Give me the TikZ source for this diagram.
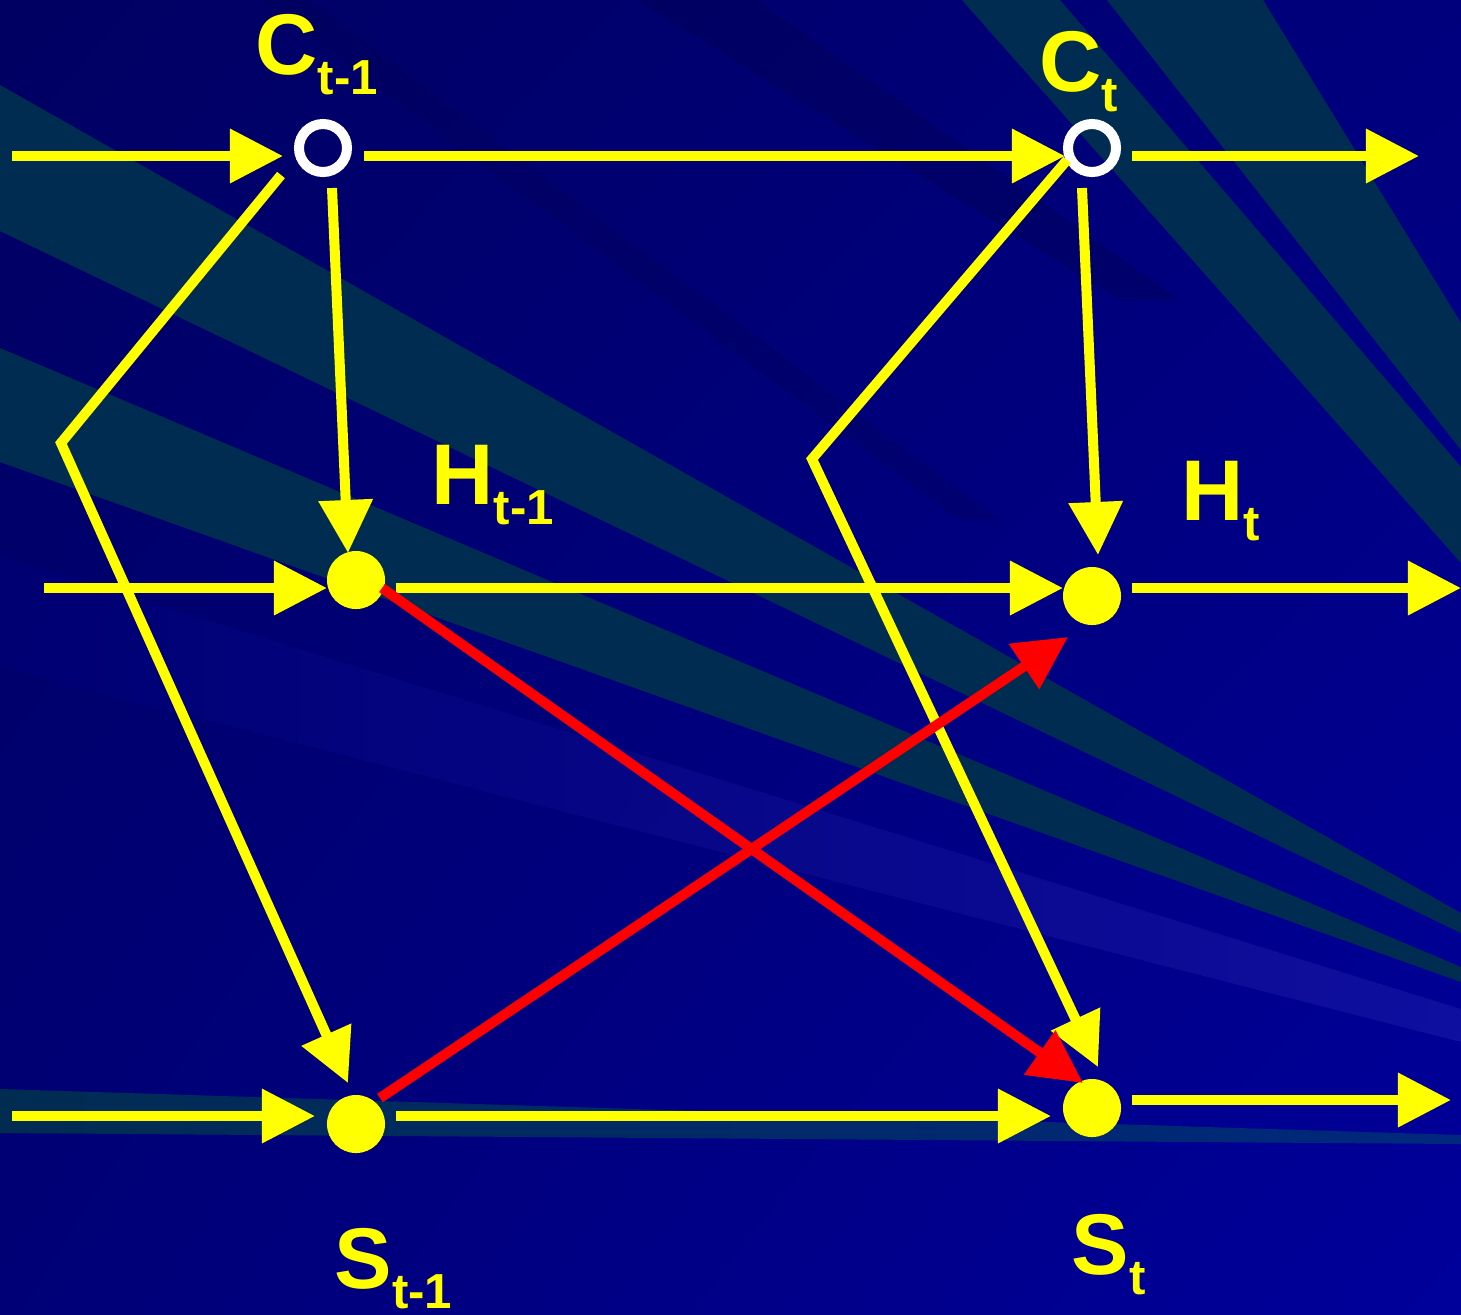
\documentclass[tikz,border=0pt]{standalone}
\usepackage{fontspec}
\setmainfont{Liberation Sans}
\usetikzlibrary{arrows.meta,calc,shadings}
\definecolor{yel}{RGB}{255,255,0}
\definecolor{rayteal}{RGB}{0,44,82}
\definecolor{raydark}{RGB}{0,0,78}
\definecolor{raylight}{RGB}{0,0,128}
\definecolor{raylight2}{RGB}{22,22,165}
\definecolor{bgA}{RGB}{0,0,98}
\definecolor{bgB}{RGB}{0,0,125}
\definecolor{bgC}{RGB}{0,0,118}
\definecolor{bgD}{RGB}{0,0,155}
\definecolor{s3end}{RGB}{0,40,125}
\tikzset{
  conn/.style={draw=yel, line width=0.1cm, -{Triangle[length=0.53cm,width=0.52cm]}},
  redconn/.style={draw=red, line width=0.1cm, -{Triangle[length=0.53cm,width=0.52cm]}},
  dot/.style={circle, fill=yel, minimum size=0.58cm, inner sep=0pt},
  ring/.style={circle, draw=white, line width=0.1cm, minimum size=0.48cm, inner sep=0pt},
  lbl/.style={anchor=base west, inner sep=0pt, text=yel, font=\bfseries\fontsize{24.5}{25}\selectfont},
}
\newcommand{\subl}[1]{\raisebox{-0.2cm}{\fontsize{14}{14}\selectfont #1}}
\begin{document}
\begin{tikzpicture}[x=0.01cm,y=-0.01cm]
\useasboundingbox (0,0) rectangle (1461,1314);
% background
\begin{scope}
\clip (0,0) rectangle (1461,1314);
\shade[upper left=bgA, upper right=bgB, lower left=bgC, lower right=bgD] (0,0) rectangle (1461,1314);
\fill[raydark, opacity=0.35] (637,0) -- (757,0) -- (1180,300) -- (1120,300) -- cycle;
\fill[raydark, opacity=0.25] (260,0) -- (310,0) -- (1000,520) -- (960,520) -- cycle;
\shade[left color=bgC, right color=raylight2, opacity=0.7] (0,556) -- (0,667) -- (1461,1042) -- (1461,1009) -- cycle;
\fill[rayteal] (0,85) -- (0,231) -- (1461,933) -- (1461,913) -- cycle;
\fill[rayteal] (0,348) -- (0,462) -- (1461,982) -- (1461,967) -- cycle;
\shade[left color=rayteal, right color=s3end] (0,1089) -- (0,1133) -- (1461,1144) -- (1461,1135) -- cycle;
\fill[rayteal] (962,0) -- (1060,0) -- (1461,467) -- (1461,563) -- cycle;
\fill[rayteal] (1107,0) -- (1263,0) -- (1461,323) -- (1461,450) -- cycle;
\end{scope}
% nodes
\node[ring] (Cm1) at (323,148) {};
\node[ring] (Ct) at (1092,148) {};
\node[dot] (Hm1) at (356,580) {};
\node[dot] (Ht) at (1092,596) {};
\node[dot] (Sm1) at (356,1124) {};
\node[dot] (St) at (1092,1108) {};
% labels
\node[lbl] (lCm1) at (255,74) {C\subl{t-1}};
\node[lbl] (lCt) at (1039,91) {C\subl{t}};
\node[lbl] (lHm1) at (431,504) {H\subl{t-1}};
\node[lbl] (lHt) at (1181,520) {H\subl{t}};
\node[lbl] (lSm1) at (334,1288) {S\subl{t-1}};
\node[lbl] (lSt) at (1071,1274) {S\subl{t}};
% free ends
\coordinate (inC) at (12,156);
\coordinate (outC) at (1419,156);
\coordinate (inH) at (44,588);
\coordinate (outH) at (1461,588);
\coordinate (inS) at (12,1116);
\coordinate (outS) at (1451,1100);
\coordinate (bendC) at (61,443);
\coordinate (bendCt) at (812,459);
% yellow connectors
\draw[conn] (inC) -- ($(Cm1)+(-40,8)$);
\draw[conn] ($(Cm1)+(41,8)$) -- ($(Ct)+(-27,8)$);
\draw[conn] ($(Ct)+(40,8)$) -- (outC);
\draw[conn] ($(Cm1)+(9,40)$) -- ($(Hm1)+(-8,-27)$);
\draw[conn] ($(Cm1)+(-42,27)$) -- (bendC) -- ($(Sm1)+(-8,-41)$);
\draw[conn] (inH) -- ($(Hm1)+(-29,8)$);
\draw[conn] ($(Hm1)+(40,8)$) -- ($(Ht)+(-29,-8)$);
\draw[conn] ($(Ht)+(40,-8)$) -- (outH);
\draw[conn] ($(Ct)+(-10,40)$) -- ($(Ht)+(6,-41)$);
\draw[conn] ($(Ct)+(-25,12)$) -- (bendCt) -- ($(St)+(6,-41)$);
\draw[conn] (inS) -- ($(Sm1)+(-41,-8)$);
\draw[conn] ($(Sm1)+(40,-8)$) -- ($(St)+(-41,8)$);
\draw[conn] ($(St)+(40,-8)$) -- (outS);
% red connectors
\draw[redconn] ($(Hm1)+(26,8)$) -- ($(St)+(-9,-25)$);
\draw[redconn] ($(Sm1)+(24,-26)$) -- ($(Ht)+(-24,41)$);
\end{tikzpicture}
\end{document}
